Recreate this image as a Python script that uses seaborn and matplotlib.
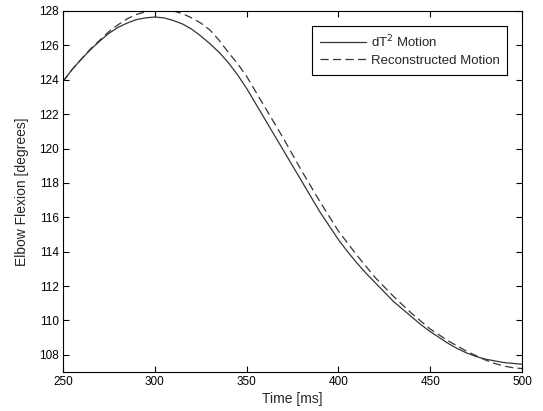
import numpy as np
import pandas as pd
import matplotlib
matplotlib.use("Agg")
import matplotlib.pyplot as plt
import seaborn as sns

# ------- DATA ----------------------------------
time_ms = list(range(250, 501, 5))
dt2_motion = [123.9, 124.6, 125.2, 125.75, 126.25, 126.7, 127.05, 127.3, 127.5, 127.6,
              127.65, 127.6, 127.45, 127.25, 126.95, 126.55, 126.1, 125.6, 125.0, 124.3,
              123.5, 122.6, 121.7, 120.8, 119.9, 119.0, 118.1, 117.2, 116.3, 115.5,
              114.7, 114.0, 113.35, 112.75, 112.2, 111.65, 111.1, 110.65, 110.2, 109.75,
              109.35, 109.0, 108.65, 108.35, 108.1, 107.9, 107.75, 107.65, 107.55, 107.5,
              107.45]
recon_motion = [123.9, 124.6, 125.2, 125.8, 126.3, 126.8, 127.2, 127.55, 127.8, 127.95,
                128.05, 128.05, 128.0, 127.85, 127.6, 127.3, 126.9, 126.3, 125.6, 124.95,
                124.2, 123.3, 122.4, 121.5, 120.6, 119.65, 118.7, 117.8, 116.9, 116.05,
                115.2, 114.5, 113.8, 113.15, 112.5, 111.95, 111.4, 110.9, 110.4, 109.95,
                109.5, 109.15, 108.8, 108.5, 108.2, 107.95, 107.7, 107.5, 107.35, 107.25,
                107.2]

df = pd.DataFrame({"t": time_ms, "dt2": dt2_motion, "rec": recon_motion})

# ------- PLOT ---------
sns.set_style("ticks")
plt.rcParams['font.family'] = ['Liberation Sans', 'DejaVu Sans']
plt.rcParams['xtick.direction'] = 'in'
plt.rcParams['ytick.direction'] = 'in'

fig = plt.figure(figsize=(5.43, 4.11), dpi=100)
ax = fig.add_axes([63 / 543, 1 - 372 / 411, (522 - 63) / 543, (372 - 11) / 411])

line_col = "#353535"
sns.lineplot(data=df, x="t", y="dt2", ax=ax, color=line_col, linewidth=0.9,
             label="dT$^2$ Motion")
sns.lineplot(data=df, x="t", y="rec", ax=ax, color=line_col, linewidth=0.9,
             linestyle=(0, (6.5, 3.5)), label="Reconstructed Motion")

ax.set_xlim(250, 500)
ax.set_ylim(107, 128)
ax.set_xticks(np.arange(250, 501, 50))
ax.set_yticks(np.arange(108, 129, 2))
ax.tick_params(top=True, right=True, labelsize=8.5, length=4, width=0.8,
               colors="black", pad=3)
for s in ax.spines.values():
    s.set_linewidth(0.8)
    s.set_color("black")

ax.set_xlabel("Time [ms]", fontsize=10, labelpad=3)
ax.set_ylabel("Elbow Flexion [degrees]", fontsize=10, labelpad=7)

leg = ax.legend(loc="upper right", fontsize=9.5, frameon=True, fancybox=False,
                edgecolor="black", framealpha=1, borderaxespad=1.1,
                handlelength=3.5, handletextpad=0.35, borderpad=0.6,
                labelspacing=0.35)
leg.get_frame().set_linewidth(0.8)

fig.savefig("out.png", dpi=100)
